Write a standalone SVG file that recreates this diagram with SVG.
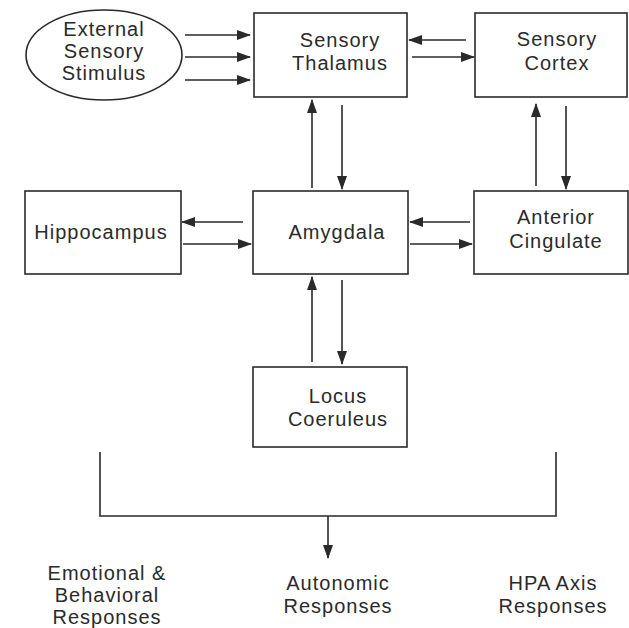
<svg xmlns="http://www.w3.org/2000/svg" width="629" height="628" viewBox="0 0 629 628">
<style>
.box{fill:#fff;stroke:#2a2a2a;stroke-width:1.6}
.t{font-family:"Liberation Sans",Arial,sans-serif;font-size:20px;letter-spacing:1px;fill:#2a2a2a;text-anchor:middle}
.c{stroke:#2a2a2a;stroke-width:1.6;fill:none}
.a{stroke:#2a2a2a;stroke-width:1.6;fill:none;marker-end:url(#ah)}
</style>
<defs>
<marker id="ah" markerWidth="14" markerHeight="10" refX="13" refY="5" orient="auto" markerUnits="userSpaceOnUse">
<path d="M0,0 L14,5 L0,10 Z" fill="#2a2a2a"/>
</marker>
</defs>
<rect width="629" height="628" fill="#fff"/>
<g id="stimulus">
<ellipse class="box" cx="104" cy="55" rx="78" ry="45"/>
<text class="t" x="104" y="36">External</text>
<text class="t" x="104" y="58">Sensory</text>
<text class="t" x="104" y="80">Stimulus</text>
</g>
<g id="thalamus">
<rect class="box" x="254" y="13" width="153" height="84"/>
<text class="t" x="340" y="47">Sensory</text>
<text class="t" x="340" y="70">Thalamus</text>
</g>
<g id="cortex">
<rect class="box" x="475" y="13" width="152" height="84"/>
<text class="t" x="557" y="46">Sensory</text>
<text class="t" x="557" y="70">Cortex</text>
</g>
<g id="hippocampus">
<rect class="box" x="25" y="191" width="156" height="83"/>
<text class="t" x="101" y="239">Hippocampus</text>
</g>
<g id="amygdala">
<rect class="box" x="253" y="191" width="155" height="83"/>
<text class="t" x="337" y="239">Amygdala</text>
</g>
<g id="cingulate">
<rect class="box" x="474" y="191" width="154" height="83"/>
<text class="t" x="556" y="224">Anterior</text>
<text class="t" x="556" y="248">Cingulate</text>
</g>
<g id="locus">
<rect class="box" x="253" y="367" width="154" height="80"/>
<text class="t" x="338" y="403">Locus</text>
<text class="t" x="338" y="426">Coeruleus</text>
</g>
<g id="responses">
<text class="t" x="107" y="580">Emotional &amp;</text>
<text class="t" x="107" y="602">Behavioral</text>
<text class="t" x="107" y="624">Responses</text>
<text class="t" x="338" y="590">Autonomic</text>
<text class="t" x="338" y="613">Responses</text>
<text class="t" x="553" y="590">HPA Axis</text>
<text class="t" x="553" y="613">Responses</text>
</g>
<g id="connectors">
<line class="a" x1="185" y1="35" x2="250" y2="35"/>
<line class="a" x1="185" y1="57" x2="250" y2="57"/>
<line class="a" x1="185" y1="80" x2="250" y2="80"/>
<line class="a" x1="466" y1="40" x2="409" y2="40"/>
<line class="a" x1="412" y1="57" x2="474" y2="57"/>
<line class="a" x1="312" y1="188" x2="312" y2="100"/>
<line class="a" x1="342" y1="105" x2="342" y2="189"/>
<line class="a" x1="536" y1="186" x2="536" y2="104"/>
<line class="a" x1="566" y1="106" x2="566" y2="189"/>
<line class="a" x1="243" y1="222" x2="182" y2="222"/>
<line class="a" x1="183" y1="244" x2="251" y2="244"/>
<line class="a" x1="470" y1="222" x2="410" y2="222"/>
<line class="a" x1="410" y1="244" x2="472" y2="244"/>
<line class="a" x1="312" y1="362" x2="312" y2="277"/>
<line class="a" x1="342" y1="280" x2="342" y2="364"/>
<polyline class="c" points="100,452 100,516 556,516 556,452"/>
<line class="a" x1="328" y1="516" x2="328" y2="558"/>
</g>
</svg>
